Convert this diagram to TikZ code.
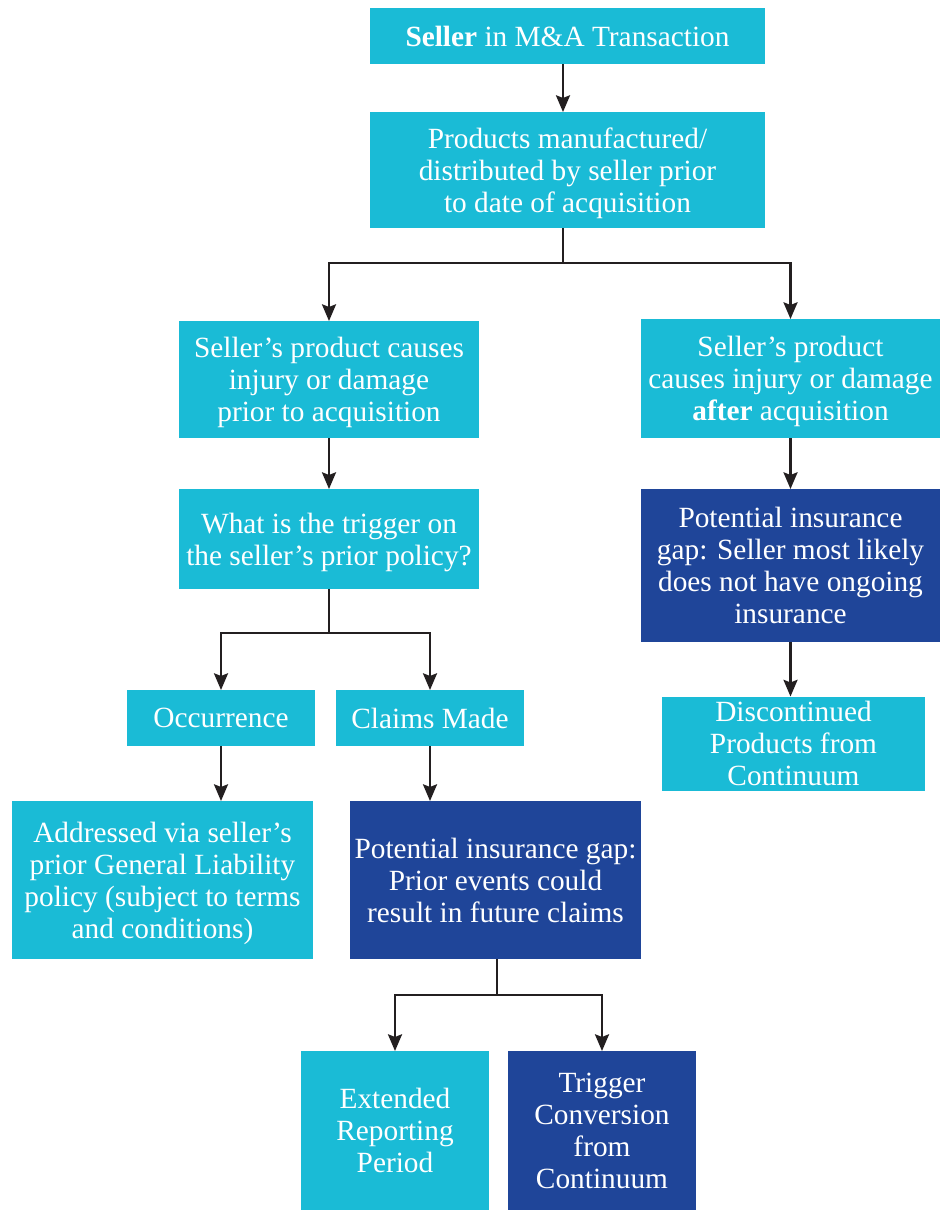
\documentclass[tikz,border=0pt]{standalone}
\usepackage{fontspec}
\setmainfont{Liberation Serif}
\usetikzlibrary{arrows.meta}
\definecolor{cyanbox}{HTML}{1ABBD6}
\definecolor{navybox}{HTML}{1F4599}
\definecolor{arrowc}{HTML}{231F20}
\tikzset{
  bx/.style 2 args={minimum width=#1*0.75pt, minimum height=#2*0.75pt, inner sep=0pt, outer sep=0pt,
    align=center, text=white, text depth=0pt, font=\fontsize{22}{24}\selectfont},
  lightbox/.style={fill=cyanbox},
  darkbox/.style={fill=navybox},
  arr/.style={draw=arrowc, line width=1.9pt, -{Stealth[width=10.5pt,length=12.5pt,inset=2pt]}},
  ln/.style={draw=arrowc, line width=1.9pt},
}
\begin{document}
\begin{tikzpicture}[x=0.75pt,y=-0.75pt]
\useasboundingbox[fill=white] (0,0) rectangle (951,1211);
\node[bx={395}{56},lightbox] (b1) at (567.5,36) {\textbf{Seller} in M\&A Transaction};
\node[bx={395}{116},lightbox] (b2) at (567.5,170) {Products manufactured/\\distributed by seller prior\\to date of acquisition};
\node[bx={300}{117},lightbox] (b3) at (329,379.5) {Seller’s product causes\\injury or damage\\prior to acquisition};
\node[bx={299}{119},lightbox] (b4) at (790.5,378.5) {Seller’s product\\causes injury or damage\\\textbf{after} acquisition};
\node[bx={300}{100},lightbox] (b5) at (329,539) {What is the trigger on\\the seller’s prior policy?};
\node[bx={299}{153},darkbox] (b6) at (790.5,565.5) {Potential insurance\\gap: Seller most likely\\does not have ongoing\\insurance};
\node[bx={188}{56},lightbox] (b7) at (221,718) {Occurrence};
\node[bx={188}{56},lightbox] (b8) at (430,718) {Claims Made};
\node[bx={263}{94},lightbox] (b9) at (793.5,743.5) {Discontinued\\Products from\\Continuum};
\node[bx={301}{158},lightbox] (b10) at (162.5,880) {Addressed via seller’s\\prior General Liability\\policy (subject to terms\\and conditions)};
\node[bx={291}{158},darkbox] (b11) at (495.5,880) {Potential insurance gap:\\Prior events could\\result in future claims};
\node[bx={188}{159},lightbox] (b12) at (395,1130.5) {Extended\\Reporting\\Period};
\node[bx={188}{159},darkbox] (b13) at (602,1130.5) {Trigger\\Conversion\\from\\Continuum};
% connectors
\coordinate (x1) at (563,0);
\draw[arr] (b1.south -| x1) -- (b2.north -| x1);
\coordinate (s1) at (563,263);
\draw[ln] (b2.south -| s1) -- (s1);
\draw[arr] (s1) -| (b3.north);
\draw[arr] (s1) -| (b4.north);
\draw[arr] (b3) -- (b5);
\coordinate (s2) at (329,633);
\draw[ln] (b5.south) -- (s2);
\draw[arr] (s2) -| (b7.north);
\draw[arr] (s2) -| (b8.north);
\draw[arr] (b7.south) -- (b7.south |- b10.north);
\draw[arr] (b8.south) -- (b8.south |- b11.north);
\coordinate (s3) at (497,995);
\draw[ln] (b11.south -| s3) -- (s3);
\draw[arr] (s3) -| (b12.north);
\draw[arr] (s3) -| (b13.north);
\draw[arr] (b4) -- (b6);
\draw[arr] (b6.south) -- (b6.south |- b9.north);
\end{tikzpicture}
\end{document}
